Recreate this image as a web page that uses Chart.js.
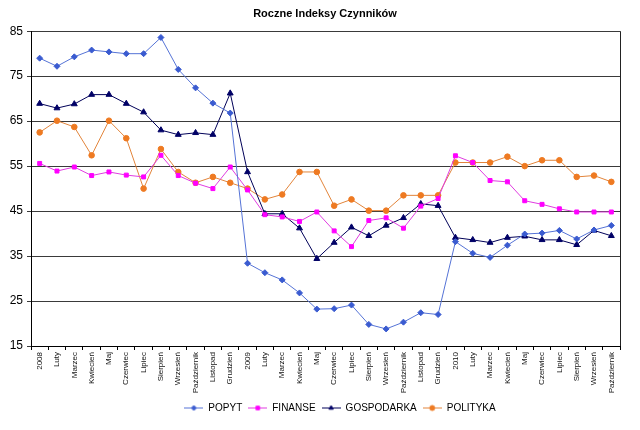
<!DOCTYPE html>
<html>
<head>
<meta charset="utf-8">
<script src="https://cdn.jsdelivr.net/npm/chart.js@4.4.1/dist/chart.umd.min.js"></script>
<style>
html,body{margin:0;padding:0;background:#fff;}
#wrap{width:640px;height:430px;}
</style>
</head>
<body>
<div id="wrap"><canvas id="c" width="640" height="430"></canvas></div>
<script>
const categories = ["2008","Luty","Marzec","Kwiecień","Maj","Czerwiec","Lipiec","Sierpień","Wrzesień","Październik","Listopad","Grudzień",
  "2009","Luty","Marzec","Kwiecień","Maj","Czerwiec","Lipiec","Sierpień","Wrzesień","Październik","Listopad","Grudzień",
  "2010","Luty","Marzec","Kwiecień","Maj","Czerwiec","Lipiec","Sierpień","Wrzesień","Październik"];
const popyt = [79.0,77.2,79.3,80.8,80.4,80.0,80.0,83.6,76.5,72.4,69.0,66.8,
  33.4,31.3,29.7,26.8,23.2,23.3,24.1,19.8,18.8,20.3,22.4,22.0,
  38.2,35.6,34.7,37.4,39.9,40.1,40.7,38.8,40.8,41.8];
const finanse = [55.6,53.9,54.8,52.9,53.7,53.0,52.6,57.4,52.9,51.2,50.0,54.8,
  49.7,44.2,43.7,42.7,44.8,40.6,37.1,42.9,43.5,41.2,46.1,47.8,
  57.3,55.8,51.8,51.5,47.3,46.5,45.5,44.8,44.8,44.8];
const gospodarka = [68.9,67.9,68.8,70.9,70.9,68.9,67.0,63.0,62.0,62.4,62.0,71.2,
  53.7,44.4,44.4,41.2,34.4,38.0,41.4,39.5,41.8,43.5,46.6,46.2,
  39.1,38.6,38.0,39.1,39.4,38.6,38.6,37.5,40.7,39.5];
const polityka = [62.5,65.1,63.7,57.4,65.1,61.2,50.0,58.8,53.7,51.3,52.6,51.3,
  50.0,47.6,48.7,53.7,53.7,46.2,47.6,45.1,45.1,48.5,48.5,48.5,
  55.8,55.8,55.8,57.1,55.0,56.3,56.3,52.6,52.9,51.5];
const seriesNames = ["POPYT","FINANSE","GOSPODARKA","POLITYKA"];
const yTicks = [15,25,35,45,55,65,75,85];

const styles = [
  {line:'#5573D6', fill:'#3A5BD0', ps:'rectRot', r:3},
  {line:'#E03CE0', fill:'#FF00FF', ps:'rect', r:2.8},
  {line:'#000058', fill:'#000066', ps:'triangle', r:3.4},
  {line:'#E2843A', fill:'#EE7A22', ps:'circle', r:2.8}
];

function legendImg(s){
  const c = document.createElement('canvas');
  c.width = 19; c.height = 9;
  const g = c.getContext('2d');
  g.strokeStyle = s.line; g.lineWidth = 1;
  g.beginPath(); g.moveTo(0,4.5); g.lineTo(19,4.5); g.stroke();
  g.fillStyle = s.fill; g.strokeStyle = s.fill;
  Chart.helpers.drawPoint(g, {pointStyle:s.ps, radius:2.5, rotation:0, borderWidth:1}, 9.5, 4.5);
  return c;
}
const legendImgs = styles.map(legendImg);

const dataArrays = [popyt, finanse, gospodarka, polityka];
const datasets = dataArrays.map((d,i)=>({
  label: seriesNames[i],
  data: d,
  borderColor: styles[i].line,
  backgroundColor: styles[i].fill,
  borderWidth: 1,
  pointStyle: styles[i].ps,
  pointRadius: styles[i].r,
  pointBackgroundColor: styles[i].fill,
  pointBorderColor: styles[i].fill,
  pointBorderWidth: 1,
  tension: 0,
  fill: false
}));

const shiftPlugin = {
  id:'shift',
  afterLayout(chart){
    if (chart.legend){ chart.legend.left += 30; chart.legend.right += 30; }
    if (chart.titleBlock){ chart.titleBlock.left += 15; chart.titleBlock.right += 15; }
  }
};
const borderPlugin = {
  id:'rborder',
  beforeDatasetsDraw(chart){
    const a = chart.chartArea, ctx = chart.ctx;
    ctx.save();
    ctx.strokeStyle = '#222'; ctx.lineWidth = 1;
    ctx.beginPath();
    ctx.moveTo(Math.round(a.right)+0.5, a.top);
    ctx.lineTo(Math.round(a.right)+0.5, a.bottom);
    ctx.stroke();
    ctx.restore();
  }
};

new Chart(document.getElementById('c'), {
  type:'line',
  data:{labels:categories, datasets},
  plugins:[shiftPlugin, borderPlugin],
  options:{
    responsive:false,
    animation:false,
    devicePixelRatio:1,
    layout:{padding:{left:0,right:20,top:0,bottom:7}},
    plugins:{
      tooltip:{enabled:false},
      title:{display:true, text:'Roczne Indeksy Czynników', color:'#000',
        font:{family:'Arial, "Liberation Sans"', size:11, weight:'bold'},
        padding:{top:7,bottom:11}},
      legend:{display:true, position:'bottom',
        labels:{usePointStyle:true, pointStyleWidth:19, color:'#000', padding:6,
          font:{family:'Arial, "Liberation Sans"', size:10},
          generateLabels(chart){
            return chart.data.datasets.map((ds,i)=>({
              text: ds.label, datasetIndex:i, pointStyle: legendImgs[i],
              fillStyle: ds.backgroundColor, strokeStyle: ds.borderColor, lineWidth:0, hidden:false, fontColor:'#000'
            }));
          }}}
    },
    scales:{
      x:{
        offset:true,
        grid:{offset:true, drawOnChartArea:false, drawTicks:true, tickLength:4, color:'#000'},
        border:{display:true, color:'#000', width:1},
        ticks:{autoSkip:false, minRotation:90, maxRotation:90, padding:2, color:'#111',
          font:{family:'Arial, "Liberation Sans"', size:8}},
        afterFit(s){ s.height = 51; }
      },
      y:{
        min:15, max:85,
        afterBuildTicks(s){ s.ticks = yTicks.map(v=>({value:v})); },
        grid:{color:'#3a3a3a', lineWidth:1, tickLength:4, drawTicks:true},
        border:{display:true, color:'#000', width:1},
        ticks:{padding:4, color:'#000', font:{family:'Arial, "Liberation Sans"', size:12}},
        afterFit(s){ s.width = 31; }
      }
    }
  }
});
</script>
</body>
</html>
